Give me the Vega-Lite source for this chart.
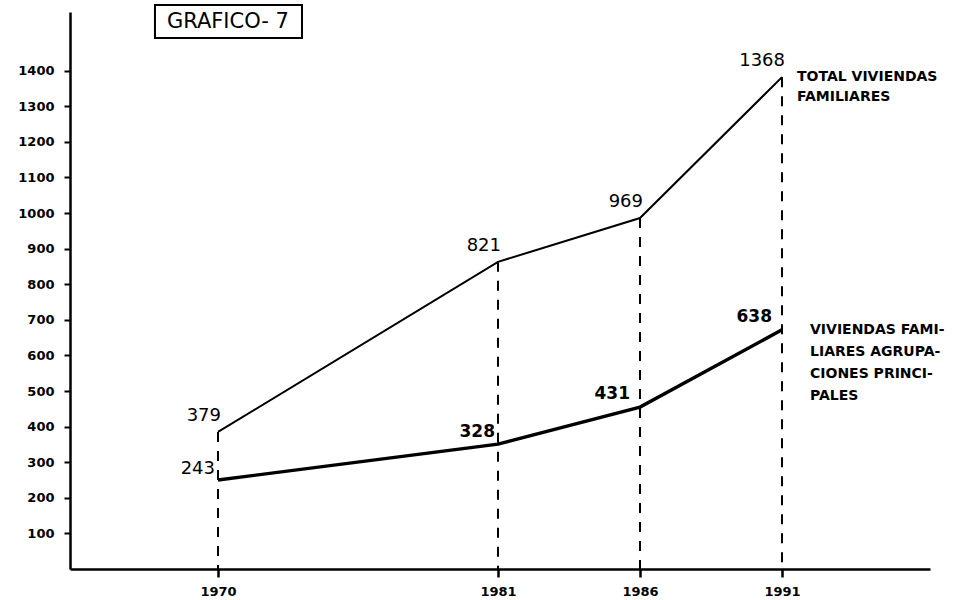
{
  "$schema": "https://vega.github.io/schema/vega-lite/v6.json",
  "width": 860,
  "height": 557,
  "autosize": {"type": "none"},
  "padding": {"left": 70, "top": 12, "right": 35, "bottom": 31},
  "background": "white",
  "datasets": {
    "viviendas": [
      {"year": 1970, "value": 385, "label": "379", "series": "TOTAL VIVIENDAS\nFAMILIARES", "grp": "total"},
      {"year": 1981, "value": 863, "label": "821", "series": "TOTAL VIVIENDAS\nFAMILIARES", "grp": "total"},
      {"year": 1986, "value": 986, "label": "969", "series": "TOTAL VIVIENDAS\nFAMILIARES", "grp": "total"},
      {"year": 1991, "value": 1382, "label": "1368", "series": "TOTAL VIVIENDAS\nFAMILIARES", "grp": "total"},
      {"year": 1970, "value": 250, "label": "243", "series": "VIVIENDAS FAMI-\nLIARES AGRUPA-\nCIONES PRINCI-\nPALES", "grp": "agrup"},
      {"year": 1981, "value": 351, "label": "328", "series": "VIVIENDAS FAMI-\nLIARES AGRUPA-\nCIONES PRINCI-\nPALES", "grp": "agrup"},
      {"year": 1986, "value": 455, "label": "431", "series": "VIVIENDAS FAMI-\nLIARES AGRUPA-\nCIONES PRINCI-\nPALES", "grp": "agrup"},
      {"year": 1991, "value": 672, "label": "638", "series": "VIVIENDAS FAMI-\nLIARES AGRUPA-\nCIONES PRINCI-\nPALES", "grp": "agrup"}
    ],
    "titulo": [
      {"x": 1967.53, "x2": 1973.3, "y": 1492, "y2": 1585, "xc": 1970.39, "yc": 1538, "text": "GRAFICO- 7"}
    ]
  },
  "layer": [
    {
      "data": {"name": "viviendas"},
      "transform": [{"filter": "datum.grp == 'total'"}],
      "mark": {"type": "rule", "color": "black", "strokeWidth": 2, "strokeDash": [10, 9]},
      "encoding": {
        "x": {
          "field": "year",
          "type": "quantitative",
          "scale": {
            "domain": [1964.2, 1970, 1981, 1986, 1991, 1996.3],
            "range": [0, 148, 428, 570, 712, 860],
            "nice": false,
            "zero": false
          },
          "axis": {
            "values": [1970, 1981, 1986, 1991],
            "format": "d",
            "title": null,
            "grid": false,
            "tickSize": 8,
            "tickWidth": 2.5,
            "labelPadding": 8
          }
        },
        "y": {
          "field": "value",
          "type": "quantitative",
          "scale": {"domain": [0, 1565], "nice": false},
          "axis": {
            "values": [100, 200, 300, 400, 500, 600, 700, 800, 900, 1000, 1100, 1200, 1300, 1400],
            "format": "d",
            "title": null,
            "grid": false,
            "tickSize": 6,
            "tickWidth": 2,
            "labelPadding": 10
          }
        },
        "y2": {"datum": 0}
      }
    },
    {
      "data": {"name": "viviendas"},
      "mark": {"type": "line", "color": "black", "strokeJoin": "miter"},
      "encoding": {
        "x": {"field": "year", "type": "quantitative"},
        "y": {"field": "value", "type": "quantitative"},
        "detail": {"field": "grp"},
        "strokeWidth": {
          "field": "grp",
          "type": "nominal",
          "scale": {"domain": ["total", "agrup"], "range": [2, 3.4]},
          "legend": null
        }
      }
    },
    {
      "data": {"name": "viviendas"},
      "transform": [{"filter": "datum.grp == 'total'"}],
      "mark": {"type": "text", "align": "right", "baseline": "bottom", "dx": 3, "dy": -7, "font": "DejaVu Sans", "fontSize": 18, "color": "black"},
      "encoding": {
        "x": {"field": "year", "type": "quantitative"},
        "y": {"field": "value", "type": "quantitative"},
        "text": {"field": "label"}
      }
    },
    {
      "data": {"name": "viviendas"},
      "transform": [{"filter": "datum.grp == 'agrup' && datum.year == 1970"}],
      "mark": {"type": "text", "align": "right", "baseline": "bottom", "dx": -3, "dy": -2, "font": "DejaVu Sans", "fontSize": 18, "color": "black"},
      "encoding": {
        "x": {"field": "year", "type": "quantitative"},
        "y": {"field": "value", "type": "quantitative"},
        "text": {"field": "label"}
      }
    },
    {
      "data": {"name": "viviendas"},
      "transform": [{"filter": "datum.grp == 'agrup' && datum.year == 1981"}],
      "mark": {"type": "text", "align": "right", "baseline": "bottom", "dx": -3, "dy": -3, "font": "DejaVu Sans", "fontSize": 17, "fontWeight": "bold", "color": "black"},
      "encoding": {
        "x": {"field": "year", "type": "quantitative"},
        "y": {"field": "value", "type": "quantitative"},
        "text": {"field": "label"}
      }
    },
    {
      "data": {"name": "viviendas"},
      "transform": [{"filter": "datum.grp == 'agrup' && datum.year > 1985"}],
      "mark": {"type": "text", "align": "right", "baseline": "bottom", "dx": -10, "dy": -4, "font": "DejaVu Sans", "fontSize": 17, "fontWeight": "bold", "color": "black"},
      "encoding": {
        "x": {"field": "year", "type": "quantitative"},
        "y": {"field": "value", "type": "quantitative"},
        "text": {"field": "label"}
      }
    },
    {
      "data": {"name": "viviendas"},
      "transform": [{"filter": "datum.grp == 'total' && datum.year == 1991"}],
      "mark": {"type": "text", "align": "left", "baseline": "top", "dx": 15, "dy": -7, "lineBreak": "\n", "lineHeight": 20, "font": "DejaVu Sans", "fontSize": 14, "letterSpacing": 0.6, "fontWeight": "bold", "color": "black"},
      "encoding": {
        "x": {"field": "year", "type": "quantitative"},
        "y": {"field": "value", "type": "quantitative"},
        "text": {"field": "series"}
      }
    },
    {
      "data": {"name": "viviendas"},
      "transform": [{"filter": "datum.grp == 'agrup' && datum.year == 1991"}],
      "mark": {"type": "text", "align": "left", "baseline": "top", "dx": 28, "dy": -7, "lineBreak": "\n", "lineHeight": 22, "font": "DejaVu Sans", "fontSize": 14, "letterSpacing": 0.8, "fontWeight": "bold", "color": "black"},
      "encoding": {
        "x": {"field": "year", "type": "quantitative"},
        "y": {"field": "value", "type": "quantitative"},
        "text": {"field": "series"}
      }
    },
    {
      "data": {"name": "titulo"},
      "mark": {"type": "rect", "fill": "white", "stroke": "black", "strokeWidth": 2},
      "encoding": {
        "x": {"field": "x", "type": "quantitative"},
        "x2": {"field": "x2"},
        "y": {"field": "y", "type": "quantitative"},
        "y2": {"field": "y2"}
      }
    },
    {
      "data": {"name": "titulo"},
      "mark": {"type": "text", "align": "center", "baseline": "middle", "font": "DejaVu Sans", "fontSize": 21, "color": "black"},
      "encoding": {
        "x": {"field": "xc", "type": "quantitative"},
        "y": {"field": "yc", "type": "quantitative"},
        "text": {"field": "text"}
      }
    }
  ],
  "config": {
    "view": {"stroke": null},
    "axis": {
      "domainColor": "black",
      "domainWidth": 2.5,
      "tickColor": "black",
      "labelColor": "black",
      "labelFont": "DejaVu Sans",
      "labelFontSize": 13,
      "labelFontWeight": "bold"
    }
  }
}
